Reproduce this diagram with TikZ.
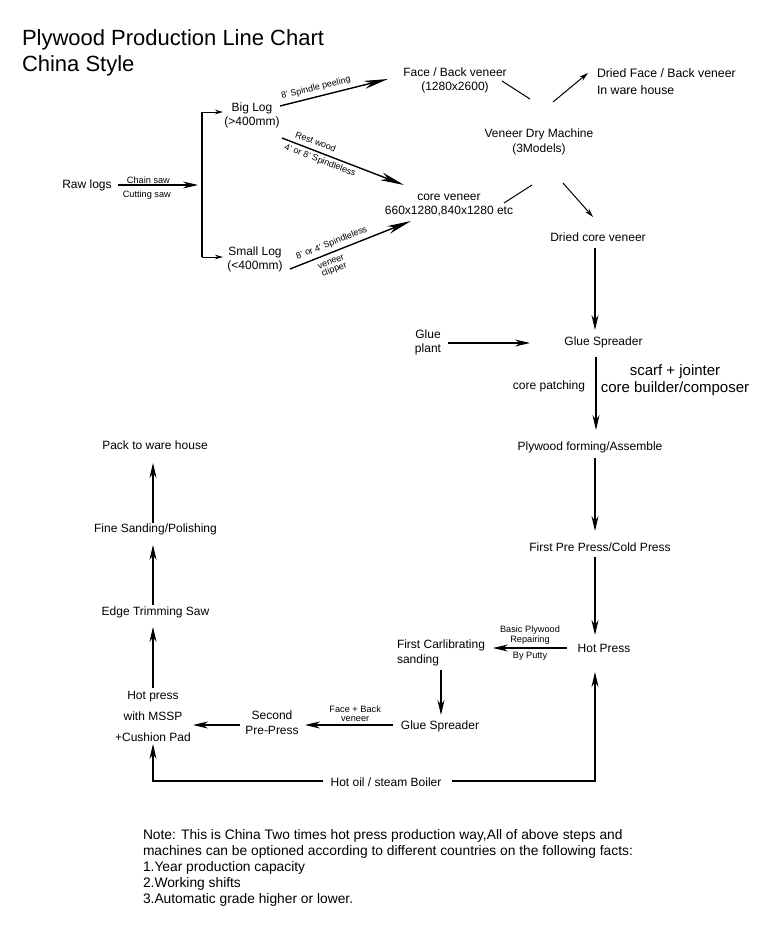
\documentclass[tikz,border=0pt]{standalone}
\usepackage{fontspec}
\setmainfont{Liberation Sans}
\usetikzlibrary{arrows.meta}
\begin{document}
\begin{tikzpicture}[x=1pt,y=-1pt,
  every node/.style={inner sep=0pt, outer sep=0pt},
  lbl/.style={font=\fontsize{12}{14.5}\selectfont, align=center},
  sm/.style={font=\fontsize{9.2}{9.5}\selectfont, align=center},
  slab/.style={font=\fontsize{9}{9}\selectfont, align=center},
  ttl/.style={font=\fontsize{22}{26}\selectfont},
  big15/.style={font=\fontsize{15}{16.5}\selectfont, align=center},
  note/.style={font=\fontsize{13.8}{16}\selectfont, align=left},
  ln/.style={line width=1.2pt},
  thinln/.style={line width=1pt},
  ar/.style={line width=1.3pt, -{Stealth[length=15pt,width=7pt,inset=5pt]}},
  smar/.style={line width=1pt, -{Stealth[length=8pt,width=4.5pt,inset=2.5pt]}},
  thinar/.style={line width=1pt, -{Stealth[length=9pt,width=5pt,inset=3pt]}},
  bigar/.style={line width=1.4pt, -{Stealth[length=24pt,width=8pt,inset=7pt]}}]
\useasboundingbox (0,0) rectangle (767,935);
\fill[white] (0,0) rectangle (767,935);

% title
\node[ttl, anchor=base west] (t1) at (22,45) {Plywood Production Line Chart};
\node[ttl, anchor=base west] (t2) at (22,71) {China Style};

% nodes
\node[lbl] (raw) at (87,185) {Raw logs};
\node[lbl] (big) at (252,115.5) {Big Log\\(>400mm)};
\node[lbl] (small) at (255,259.5) {Small Log\\(<400mm)};
\node[lbl] (fb) at (455,80.5) {Face / Back veneer\\(1280x2600)};
\node[lbl, anchor=west, align=left, font=\fontsize{12.3}{17}\selectfont] (dfb) at (597,81.5) {Dried Face / Back veneer\\In ware house};
\node[lbl] (vdm) at (539,142) {Veneer Dry Machine\\(3Models)};
\node[lbl] (core) at (449,205) {core veneer\\660x1280,840x1280 etc};
\node[lbl] (dcore) at (598,237) {Dried core veneer};
\node[lbl] (gs) at (603.5,342) {Glue Spreader};
\node[lbl] (gp) at (428,342.5) {Glue\\plant};
\node[lbl] (cp) at (549,386) {core patching};
\node[big15] (scarf) at (675,380) {scarf + jointer\\core builder/composer};
\node[lbl] (form) at (590,447) {Plywood forming/Assemble};
\node[lbl] (fpp) at (600,547) {First Pre Press/Cold Press};
\node[lbl] (hp) at (604,648) {Hot Press};
\node[lbl, anchor=west, align=left] (fcs) at (397,653) {First Carlibrating\\sanding};
\node[lbl] (gs2) at (440,726) {Glue Spreader};
\node[lbl] (spp) at (272,722.5) {Second\\Pre-Press};
\node[lbl, font=\fontsize{12}{21}\selectfont] (hpm) at (153,716) {Hot press\\with MSSP\\+Cushion Pad};
\node[lbl] (hob) at (386,782) {Hot oil / steam Boiler};
\node[lbl] (ets) at (155.5,612) {Edge Trimming Saw};
\node[lbl] (fsp) at (155.5,529) {Fine Sanding/Polishing};
\node[lbl] (pack) at (155,445) {Pack to ware house};

\node[note, anchor=north west] (nt) at (143,829) {Note: This is China Two times hot press production way,All of above steps and\\machines can be optioned according to different countries on the following facts:\\1.Year production capacity\\2.Working shifts\\3.Automatic grade higher or lower.};

% rotated labels of the peeling arrows
\node[slab, rotate=14] (s1) at (316,88) {8' Spindle peeling};
\node[slab, rotate=-21.2] (s2) at (315.7,141.7) {Rest wood};
\node[slab, rotate=-21.2] (s3) at (320,160.7) {4' or 8' Spindleless};
\node[slab, rotate=21.7] (s4) at (331.7,243.3) {8' or 4' Spindleless};
\node[slab, rotate=21.7, font=\fontsize{9}{8.5}\selectfont] (s5) at (333,266.7) {veneer\\clipper};

% coordinates
\coordinate (rawo) at (118,185);
\coordinate (br) at (198,185);
\coordinate (bt) at (202,112);
\coordinate (bb) at (202,257);
\coordinate (bigin) at (223,112);
\coordinate (smallin) at (223,257);
\coordinate (a1s) at (280,106);
\coordinate (a1e) at (388,79);
\coordinate (a2s) at (282,138);
\coordinate (a2e) at (404,185);
\coordinate (a3s) at (290,269);
\coordinate (a3e) at (411,221);
\coordinate (l1s) at (502,81);
\coordinate (l1e) at (530,99);
\coordinate (d1s) at (553,102);
\coordinate (d1e) at (588,73);
\coordinate (l2s) at (504,203);
\coordinate (l2e) at (532,185);
\coordinate (d2s) at (563,183);
\coordinate (d2e) at (593,217);
\coordinate (v1s) at (595,248);
\coordinate (v1e) at (595,330);
\coordinate (gps) at (448,343);
\coordinate (gpe) at (530,343);
\coordinate (v2s) at (596,357);
\coordinate (v2e) at (596,430);
\coordinate (v3s) at (595,458);
\coordinate (v3e) at (595,531);
\coordinate (v4s) at (595,557);
\coordinate (v4e) at (595,635);
\coordinate (h1s) at (567,648);
\coordinate (h1e) at (493,648);
\coordinate (v5s) at (441,670);
\coordinate (v5e) at (441,715);
\coordinate (h2s) at (393,725);
\coordinate (h2e) at (305,725);
\coordinate (h3s) at (240,725);
\coordinate (h3e) at (193,725);
\coordinate (bl) at (323,781);
\coordinate (blc) at (153,781);
\coordinate (ble) at (153,744);
\coordinate (brs) at (452,781);
\coordinate (brc) at (595,781);
\coordinate (bre) at (595,672);
\coordinate (u1s) at (153,688);
\coordinate (u1e) at (153,627);
\coordinate (u2s) at (153,605);
\coordinate (u2e) at (153,545);
\coordinate (u3s) at (153,523);
\coordinate (u3e) at (153,463);

% connectors
\draw[ar] (rawo) -- (br)
  node[sm, above=1.5pt, pos=0.38] {Chain saw}
  node[sm, below=6pt, pos=0.36] {Cutting saw};
\draw[ln] (bt) -- (bb);
\draw[smar] (bt) -- (bigin);
\draw[smar] (bb) -- (smallin);
\draw[bigar] (a1s) -- (a1e);
\draw[bigar] (a2s) -- (a2e);
\draw[bigar] (a3s) -- (a3e);
\draw[thinln] (l1s) -- (l1e);
\draw[thinar] (d1s) -- (d1e);
\draw[thinln] (l2s) -- (l2e);
\draw[thinar] (d2s) -- (d2e);
\draw[ar] (v1s) -- (v1e);
\draw[ar] (gps) -- (gpe);
\draw[ar] (v2s) -- (v2e);
\draw[ar] (v3s) -- (v3e);
\draw[ar] (v4s) -- (v4e);
\draw[ar] (h1s) -- (h1e)
  node[sm, above=4pt, midway, font=\fontsize{9.2}{10}\selectfont] {Basic Plywood\\Repairing}
  node[sm, below=4pt, midway] {By Putty};
\draw[ar] (v5s) -- (v5e);
\draw[ar] (h2s) -- (h2e)
  node[sm, above=3.5pt, pos=0.43, font=\fontsize{9.2}{8.5}\selectfont] {Face + Back\\veneer};
\draw[ar] (h3s) -- (h3e);
\draw[ar] (bl) -- (blc) -- (ble);
\draw[ar] (brs) -- (brc) -- (bre);
\draw[ar] (u1s) -- (u1e);
\draw[ar] (u2s) -- (u2e);
\draw[ar] (u3s) -- (u3e);
\end{tikzpicture}
\end{document}
